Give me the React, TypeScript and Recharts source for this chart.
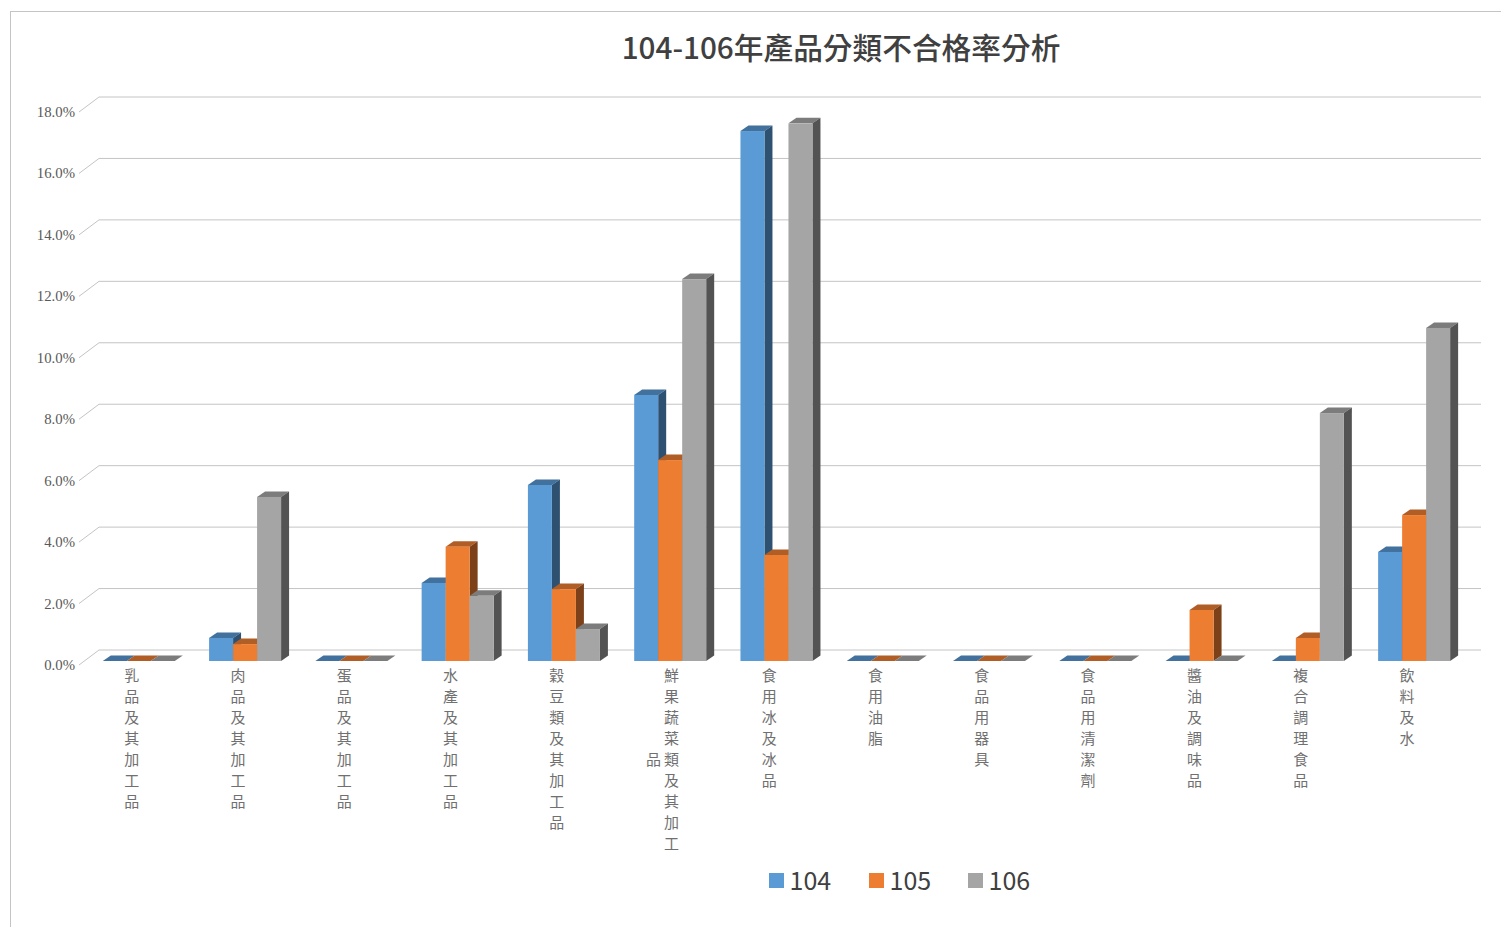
import * as React from 'react';
import { BarChart, Bar, XAxis, YAxis, CartesianGrid, Legend } from 'recharts';

const categories = [
  '乳品及其加工品', '肉品及其加工品', '蛋品及其加工品', '水產及其加工品', '穀豆類及其加工品',
  '鮮果蔬菜類及其加工品', '食用冰及冰品', '食用油脂', '食品用器具', '食品用清潔劑',
  '醬油及調味品', '複合調理食品', '飲料及水',
];
const values104 = [0, 0.75, 0, 2.54, 5.73, 8.66, 17.25, 0, 0, 0, 0, 0, 3.55];
const values105 = [0, 0.55, 0, 3.72, 2.34, 6.54, 3.45, 0, 0, 0, 1.66, 0.75, 4.75];
const values106 = [0, 5.34, 0, 2.12, 1.04, 12.43, 17.5, 0, 0, 0, 0, 8.07, 10.84];
const yTicks = [0, 2, 4, 6, 8, 10, 12, 14, 16, 18];

const chartData = categories.map((name, i) => ({
  name,
  y104: values104[i],
  y105: values105[i],
  y106: values106[i],
}));

const CJK = '"Noto Sans CJK TC", "Noto Sans", sans-serif';
const DEPTH_X = 8;
const DEPTH_Y = 5.5;

function bar3d(front: string, top: string, side: string) {
  return (props: any) => {
    const { x, y, width, height } = props;
    const h = Math.max(height || 0, 0);
    return (
      <g>
        <polygon
          points={`${x},${y} ${x + DEPTH_X},${y - DEPTH_Y} ${x + width + DEPTH_X},${y - DEPTH_Y} ${x + width},${y}`}
          fill={top}
        />
        {h > 0 && (
          <polygon
            points={`${x + width},${y} ${x + width + DEPTH_X},${y - DEPTH_Y} ${x + width + DEPTH_X},${y + h - DEPTH_Y} ${x + width},${y + h}`}
            fill={side}
          />
        )}
        {h > 0 && <rect x={x} y={y} width={width} height={h} fill={front} />}
      </g>
    );
  };
}

// gridline runs along the floor edge and then over the back wall
function gridLine(props: any) {
  const y = props.y1;
  return (
    <polyline
      key={`grid-${y}`}
      points={`79,${y + 4} 99,${y - 11} 1481,${y - 11}`}
      fill="none"
      stroke="#C4C4C4"
      strokeWidth={1}
    />
  );
}

function YTick(props: any) {
  const { y, payload } = props;
  return (
    <text x={75} y={y + 4} dy={5} textAnchor="end" fontFamily="'Liberation Serif', serif" fontSize={14.8} fill="#595959">
      {payload.value.toFixed(1)}%
    </text>
  );
}

function XTick(props: any) {
  const { x, payload } = props;
  const chars: string[] = Array.from(payload.value as string);
  const main = chars.slice(0, 9);
  const extra = chars.slice(9);
  const colX = extra.length ? x + 2 : x - 6.5;
  return (
    <g fontFamily={CJK} fontSize={15} fill="#707070" textAnchor="middle">
      {main.map((c, i) => (
        <text key={i} x={colX} y={681 + i * 21}>{c}</text>
      ))}
      {extra.map((c, i) => (
        <text key={`e${i}`} x={colX - 18} y={681 + 4 * 21}>{c}</text>
      ))}
    </g>
  );
}

const legendItems = [
  { label: '104', color: '#5B9BD5', x: 769 },
  { label: '105', color: '#ED7D31', x: 869 },
  { label: '106', color: '#A5A5A5', x: 968 },
];

function LegendBox() {
  return (
    <div style={{ position: 'relative', width: 1501, height: 40 }}>
      {legendItems.map((d) => (
        <React.Fragment key={d.label}>
          <div style={{ position: 'absolute', left: d.x, top: 13, width: 15, height: 15, background: d.color }} />
          <div style={{ position: 'absolute', left: d.x + 20.5, top: 1, fontFamily: CJK, fontSize: 25, lineHeight: '36px', color: '#404040' }}>
            {d.label}
          </div>
        </React.Fragment>
      ))}
    </div>
  );
}

export default function App() {
  return (
    <div style={{ position: 'fixed', left: 0, top: 0, width: 1501, height: 927, overflow: 'hidden', background: '#fff' }}>
      <div style={{ position: 'absolute', left: 10, top: 11, right: 0, bottom: 0, borderLeft: '1px solid #C4C4C4', borderTop: '1px solid #C4C4C4' }} />
      <div style={{ position: 'absolute', left: 0, top: 26, width: 1682, textAlign: 'center', fontFamily: CJK, fontSize: 29.7, fontWeight: 500, lineHeight: '42px', color: '#404040' }}>
        104-106年產品分類不合格率分析
      </div>
      <div style={{ position: 'absolute', left: 0, top: 0 }}>
        <BarChart
          width={1501}
          height={927}
          data={chartData}
          margin={{ top: 108, right: 34.4, bottom: 224, left: 84 }}
          barCategoryGap="16.75%"
          barGap={0}
        >
          <CartesianGrid vertical={false} horizontal={gridLine} />
          <XAxis dataKey="name" height={2} axisLine={false} tickLine={false} interval={0} tick={XTick} />
          <YAxis width={1} domain={[0, 18]} ticks={yTicks} axisLine={false} tickLine={false} tick={YTick} interval={0} />
          <Legend
            content={<LegendBox />}
            wrapperStyle={{ position: 'absolute', left: 0, top: 860, width: 1501, height: 40 }}
          />
          <Bar dataKey="y104" isAnimationActive={false} shape={bar3d('#5B9BD5', '#41719C', '#2E5171')} />
          <Bar dataKey="y105" isAnimationActive={false} shape={bar3d('#ED7D31', '#B15E26', '#7C4119')} />
          <Bar dataKey="y106" isAnimationActive={false} shape={bar3d('#A5A5A5', '#7C7C7C', '#535353')} />
        </BarChart>
      </div>
    </div>
  );
}
